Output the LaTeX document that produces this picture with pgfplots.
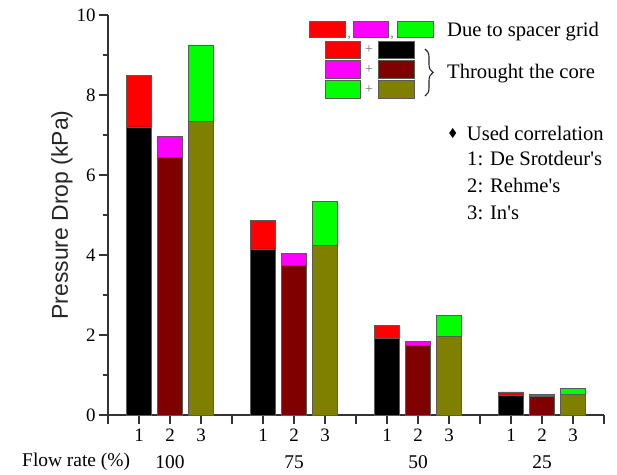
\documentclass[border=0pt]{standalone}
\usepackage{fontspec}
\setmainfont{Liberation Serif}
\newfontfamily\sansf{Liberation Sans}
\usepackage{pgfplots}
\pgfplotsset{compat=1.18}
\usetikzlibrary{decorations.pathreplacing}
\definecolor{cRed}{RGB}{255,0,0}
\definecolor{cMag}{RGB}{255,0,255}
\definecolor{cGreen}{RGB}{0,255,0}
\definecolor{cDred}{RGB}{128,0,0}
\definecolor{cOlive}{RGB}{128,128,0}
\definecolor{cEdge}{RGB}{90,90,90}
\begin{document}
\begin{tikzpicture}[x=1bp,y=1bp]
\useasboundingbox (-108,-60) rectangle (509,415);
\begin{axis}[at={(0,0)}, anchor=origin, scale only axis,
  width=496bp, height=400bp,
  xmin=0, xmax=16, ymin=0, ymax=10,
  axis lines=left, axis line style={-, line width=1.1pt, black!80},
  tick align=outside, major tick length=9bp, minor tick length=5bp,
  tick style={line width=1.1pt, black!80},
  xtick={0,...,16},
  xticklabels={,1,2,3,,1,2,3,,1,2,3,,1,2,3,},
  ytick={0,2,...,10}, minor ytick={1,3,...,9},
  ticklabel style={font=\fontsize{19}{22}\selectfont},
  xticklabel style={yshift=-1bp},
  /pgf/number format/assume math mode=true,
  clip=false,
  mybar/.style={ybar, bar width=0.8, bar shift=0pt, fill=#1, draw=cEdge, line width=0.6pt},
]
\addplot[mybar=cRed]   coordinates {(1,8.48) (5,4.86) (9,2.23) (13,0.575)};
\addplot[mybar=black]  coordinates {(1,7.20) (5,4.15) (9,1.92) (13,0.50)};
\addplot[mybar=cMag]   coordinates {(2,6.97) (6,4.03) (10,1.83) (14,0.51)};
\addplot[mybar=cDred]  coordinates {(2,6.43) (6,3.73) (10,1.73) (14,0.46)};
\addplot[mybar=cGreen] coordinates {(3,9.25) (7,5.33) (11,2.49) (15,0.66)};
\addplot[mybar=cOlive] coordinates {(3,7.33) (7,4.23) (11,1.96) (15,0.52)};
\end{axis}
% axis labels
\node[rotate=90, font=\sansf\fontsize{23}{26}\selectfont, text=black!85] at (-46,200) {Pressure Drop (kPa)};
\begin{scope}[every node/.style={font=\fontsize{19.5}{22}\selectfont}]
\node[anchor=west, inner sep=0pt] at (-86,-47) {Flow rate (\%)};
\node at (62,-47) {100};
\node at (186,-47) {75};
\node at (310,-47) {50};
\node at (434,-47) {25};
\end{scope}
% legend
\begin{scope}[every path/.style={draw=cEdge, line width=0.6pt}]
\filldraw[fill=cRed]   (201,377.3) rectangle (237,394);
\filldraw[fill=cMag]   (245,377.3) rectangle (280,394);
\filldraw[fill=cGreen] (289,377.3) rectangle (325,394);
\filldraw[fill=cRed]   (217,356.7) rectangle (252,373.3);
\filldraw[fill=black]  (270,356.7) rectangle (306,373.3);
\filldraw[fill=cMag]   (217,336.7) rectangle (252,354.3);
\filldraw[fill=cDred]  (270,336.7) rectangle (306,354.3);
\filldraw[fill=cGreen] (217,316.7) rectangle (252,334.3);
\filldraw[fill=cOlive] (270,316.7) rectangle (306,334.3);
\end{scope}
\begin{scope}[every node/.style={text=black!55, font=\fontsize{14}{16}\selectfont, inner sep=0pt}]
\node at (241,377) {,};
\node at (284,377) {,};
\node at (261,365) {+};
\node at (261,345.5) {+};
\node at (261,325.5) {+};
\end{scope}
\draw[decorate, decoration={brace, amplitude=8bp}, line width=1.1pt, black!85] (317,366) -- (317,319);
\fill[black] (344.7,287) -- (348.2,282) -- (344.7,277) -- (341.2,282) -- cycle;
\begin{scope}[every node/.style={anchor=west, inner sep=0pt, font=\fontsize{20.7}{24}\selectfont}]
\node at (339,383.3) {Due to spacer grid};
\node at (339,341.7) {Throught the core};
\node at (358.7,282) {Used correlation};
\node at (359,257) {1: De Srotdeur\textquotesingle s};
\node at (359,230) {2: Rehme\textquotesingle s};
\node at (359,202) {3: In\textquotesingle s};
\end{scope}
\end{tikzpicture}
\end{document}
